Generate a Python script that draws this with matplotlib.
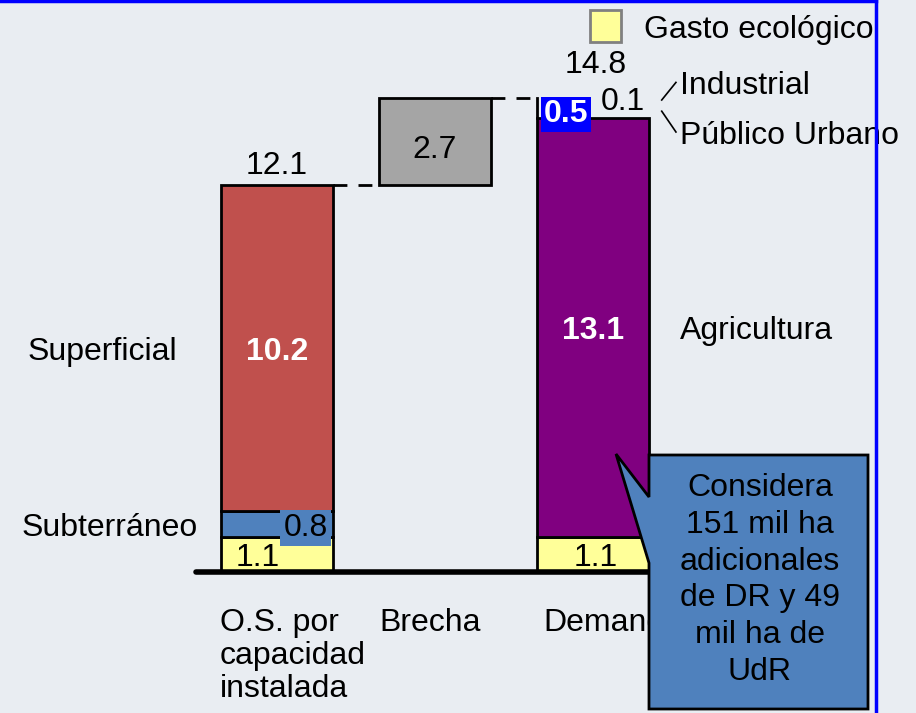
import matplotlib.pyplot as plt
from matplotlib.patches import Polygon, Rectangle
from matplotlib.lines import Line2D

plt.rcParams['font.family'] = ['Liberation Sans', 'DejaVu Sans']

# datos (miles de millones de m3)
categorias = ["O.S. por\ncapacidad\ninstalada", "Brecha", "Demanda"]
gasto_ecologico = [1.1, 0.0, 1.1]
subterraneo = 0.8
superficial = 10.2
brecha = 2.7
agricultura = 13.1
publico_urbano = 0.5
industrial = 0.1

oferta_total = gasto_ecologico[0] + subterraneo + superficial
demanda_total = gasto_ecologico[2] + agricultura + publico_urbano + industrial

fondo = "#e9edf2"
fig = plt.figure(figsize=(9.16, 7.13), dpi=100, facecolor=fondo)
ax = fig.add_axes([0, 141 / 713, 1, 572 / 713])
ax.set_facecolor(fondo)
ax.set_xlim(-277 / 158, (916 - 277) / 158)
ax.set_ylim(0, 572 / 32)
ax.axis("off")

x = [0, 1, 2]
w = 0.71
ed = dict(edgecolor="black", linewidth=2)

# O.S. por capacidad instalada
ax.bar(x[0], gasto_ecologico[0], w, color="#ffff99", **ed)
ax.bar(x[0], subterraneo, w, bottom=gasto_ecologico[0], color="#4f81bd", **ed)
ax.bar(x[0], superficial, w, bottom=gasto_ecologico[0] + subterraneo, color="#c0504d", **ed)

# Brecha
ax.bar(x[1], brecha, w, bottom=oferta_total, color="#a5a5a5", **ed)

# Demanda
ax.bar(x[2], gasto_ecologico[2], w, color="#ffff99", **ed)
ax.bar(x[2], agricultura, w, bottom=gasto_ecologico[2], color="#800080", **ed)
base_pu = gasto_ecologico[2] + agricultura
ax.bar(x[2], publico_urbano, w, bottom=base_pu, color="none", linewidth=0)
ax.bar(x[2], industrial, w, bottom=base_pu + publico_urbano, color="none", linewidth=0)
ax.plot([x[2] - w / 2] * 2, [base_pu, demanda_total], color="black", lw=2)

# conectores
ax.plot([x[0] + w / 2, x[1] - w / 2], [oferta_total] * 2, color="black", lw=2, ls=(0, (5, 4)))
ax.plot([x[1] + w / 2, x[2] - w / 2], [demanda_total] * 2, color="black", lw=2, ls=(0, (5, 4)))

# eje base
ax.plot([-0.513, 2.4], [0, 0], color="black", lw=4, solid_capstyle="round", clip_on=False)

fs = 23
dy = -0.13  # pequeño ajuste vertical de los textos centrados
# etiquetas de valores
ax.text(x[0], oferta_total + 0.12, f"{oferta_total:.1f}", ha="center", va="bottom", fontsize=fs)
ax.text(x[0], gasto_ecologico[0] + subterraneo + superficial / 2 + dy, f"{superficial:.1f}",
        ha="center", va="center", fontsize=fs, color="white", fontweight="bold")
ax.text(x[0] + 0.18, gasto_ecologico[0] + subterraneo / 2 - 0.12, f"{subterraneo:.1f}",
        ha="center", va="center", fontsize=fs,
        bbox=dict(boxstyle="square,pad=0.1", fc="#4f81bd", ec="none"))
ax.text(x[0] - 0.12, 0.45, f"{gasto_ecologico[0]:.1f}", ha="center", va="center", fontsize=fs)
ax.text(x[1], oferta_total + brecha / 2 - 0.25, f"{brecha:.1f}", ha="center", va="center", fontsize=fs)
ax.text(x[2], gasto_ecologico[2] + agricultura / 2 + dy, f"{agricultura:.1f}",
        ha="center", va="center", fontsize=fs, color="white", fontweight="bold")
ax.text(x[2] + 0.02, 0.45, f"{gasto_ecologico[2]:.1f}", ha="center", va="center", fontsize=fs)
ax.text(x[2] + 0.02, demanda_total + 0.57, f"{demanda_total:.1f}", ha="center", va="bottom", fontsize=fs)
ax.text(x[2] - 0.17, base_pu + 0.1, f"{publico_urbano:.1f}",
        ha="center", va="center", fontsize=fs, color="white", fontweight="bold", zorder=4,
        bbox=dict(boxstyle="square,pad=0.08", fc="#0000ff", ec="none"))
ax.text(x[2] + 0.19, demanda_total - 0.1, f"{industrial:.1f}", ha="center", va="center", fontsize=fs)

# nombres de componentes
ax.text(-1.58, gasto_ecologico[0] + subterraneo + superficial / 2 + dy, "Superficial",
        ha="left", va="center", fontsize=fs)
ax.text(-1.62, gasto_ecologico[0] + subterraneo / 2 - 0.12, "Subterráneo", ha="left", va="center", fontsize=fs)
ax.text(2.55, gasto_ecologico[2] + agricultura / 2 + dy, "Agricultura", ha="left", va="center", fontsize=fs)
ax.text(2.55, 15.2, "Industrial", ha="left", va="center", fontsize=fs)
ax.text(2.55, 13.62, "Público Urbano", ha="left", va="center", fontsize=fs)
ax.plot([2.435, 2.525], [14.75, 15.3], color="black", lw=1.2)
ax.plot([2.435, 2.525], [14.4, 13.75], color="black", lw=1.2)

# leyenda
ax.add_patch(Rectangle((1.98, 16.56), 0.2, 1.0, fc="#ffff99", ec="#808080", lw=2))
ax.text(2.32, 16.95, "Gasto ecológico", ha="left", va="center", fontsize=fs)

# categorías
ax.text(-0.36, -1.12, categorias[0], ha="left", va="top", fontsize=fs, linespacing=1.13, clip_on=False)
ax.text(x[1] - 0.03, -1.12, categorias[1], ha="center", va="top", fontsize=fs, clip_on=False)
ax.text(1.684, -1.12, categorias[2], ha="left", va="top", fontsize=fs, clip_on=False)

# llamada
def px(xp, yp):
    return ((xp - 277) / 158, (572 - yp) / 32)

llamada = [px(649, 455), px(868, 455), px(868, 709), px(649, 709),
           px(649, 563), px(616, 454), px(649, 497)]
ax.add_patch(Polygon(llamada, closed=True, fc="#4f81bd", ec="black", lw=2, clip_on=False, zorder=5))
cx, cy = px(760, 580)
ax.text(cx, cy, "Considera\n151 mil ha\nadicionales\nde DR y 49\nmil ha de\nUdR", ha="center", va="center",
        fontsize=fs, linespacing=1.3, zorder=6, clip_on=False)

# marco azul
fig.add_artist(Line2D([0, 876 / 916], [0.998, 0.998], color="#0000ff", lw=2.5))
fig.add_artist(Line2D([876 / 916, 876 / 916], [0, 1], color="#0000ff", lw=2.5))

fig.savefig("out.png", dpi=100, facecolor=fondo)
